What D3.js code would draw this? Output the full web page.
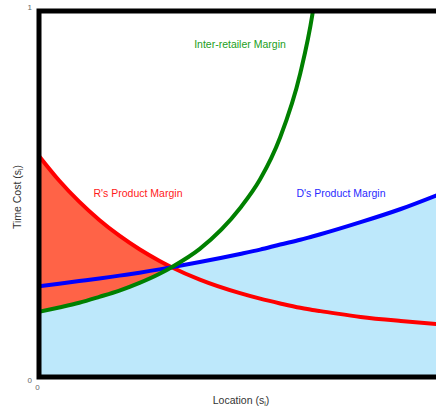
<!DOCTYPE html>
<html>
<head>
<meta charset="utf-8">
<script src="https://cdn.jsdelivr.net/npm/d3@7"></script>
<style>
  html, body { margin: 0; padding: 0; background: #fff; }
  svg { display: block; font-family: "Liberation Sans", Arial, sans-serif; }
</style>
</head>
<body>
<svg id="chart" width="436" height="410"></svg>
<script>
// Location along the market (s_i), shared by every curve
const locations = [0, 0.05, 0.1, 0.15, 0.2, 0.25, 0.3, 0.33, 0.4, 0.5, 0.55, 0.6, 0.65, 0.68, 0.7, 0.8, 0.9, 1.0];
// R's product margin (time cost)
const rMargin = [0.604, 0.537, 0.479, 0.429, 0.386, 0.349, 0.317, 0.300, 0.266, 0.229, 0.214, 0.201, 0.189, 0.183, 0.180, 0.164, 0.153, 0.144];
// D's product margin (time cost)
const dMargin = [0.248, 0.255, 0.262, 0.269, 0.277, 0.285, 0.294, 0.300, 0.314, 0.336, 0.348, 0.362, 0.375, 0.384, 0.390, 0.423, 0.459, 0.501];
// Inter-retailer margin; leaves the top of the plot past 0.7
const interMargin = [0.178, 0.190, 0.203, 0.219, 0.236, 0.257, 0.282, 0.300, 0.350, 0.461, 0.540, 0.655, 0.830, 0.990, 1.150, null, null, null];
// Location where the three margins meet
const crossing = 0.33;

const xTicks = [0];
const yTicks = [0, 1];

const svg = d3.select("#chart");

const x = d3.scaleLinear().domain([0, 1]).range([39, 441]);
const y = d3.scaleLinear().domain([0, 1]).range([377, 11]);

const rows = locations.map((s, i) => ({ s, r: rMargin[i], d: dMargin[i], g: interMargin[i] }));

svg.append("defs").append("clipPath").attr("id", "plotClip")
  .append("rect")
  .attr("x", x(0)).attr("y", y(1))
  .attr("width", x(1) - x(0)).attr("height", y(0) - y(1));

const plot = svg.append("g").attr("clip-path", "url(#plotClip)");

// Region under the lower of D's margin and the inter-retailer margin
const lowerEnvelope = rows.map(p => ({ s: p.s, v: p.s <= crossing ? p.g : p.d }));
plot.append("path")
  .datum(lowerEnvelope)
  .attr("fill", "#bde8fb")
  .attr("d", d3.area().curve(d3.curveMonotoneX)
    .x(p => x(p.s)).y0(y(0)).y1(p => y(p.v)));

// R's margin above the inter-retailer margin, left of the crossing
plot.append("path")
  .datum(rows.filter(p => p.s <= crossing))
  .attr("fill", "#ff6347")
  .attr("d", d3.area().curve(d3.curveMonotoneX)
    .x(p => x(p.s)).y0(p => y(p.g)).y1(p => y(p.r)));

const line = key => d3.line().curve(d3.curveMonotoneX)
  .defined(p => p[key] != null)
  .x(p => x(p.s)).y(p => y(p[key]));

plot.append("path").datum(rows).attr("fill", "none")
  .attr("stroke", "#ff0000").attr("stroke-width", 4).attr("d", line("r"));
plot.append("path").datum(rows).attr("fill", "none")
  .attr("stroke", "#0000ff").attr("stroke-width", 4).attr("d", line("d"));
plot.append("path").datum(rows).attr("fill", "none")
  .attr("stroke", "#008000").attr("stroke-width", 4).attr("d", line("g"));

// Frame
svg.append("rect")
  .attr("x", x(0)).attr("y", y(1))
  .attr("width", x(1) - x(0)).attr("height", y(0) - y(1))
  .attr("fill", "none").attr("stroke", "#000").attr("stroke-width", 5);

// Axes: only the end labels are shown
const yAxis = svg.append("g").attr("transform", `translate(${x(0) - 4},0)`)
  .call(d3.axisLeft(y).tickValues(yTicks).tickSize(0).tickPadding(3).tickFormat(d3.format("d")));
yAxis.select(".domain").remove();
yAxis.selectAll("text")
  .attr("font-size", 8).attr("fill", "#666")
  .attr("font-family", "Liberation Sans, Arial, sans-serif")
  .attr("dy", d => d === 0 ? "0.7em" : "-0.15em");

const xAxis = svg.append("g").attr("transform", `translate(-2,${y(0) + 4})`)
  .call(d3.axisBottom(x).tickValues(xTicks).tickSize(0).tickPadding(3).tickFormat(d3.format("d")));
xAxis.select(".domain").remove();
xAxis.selectAll("text")
  .attr("font-size", 8).attr("fill", "#666")
  .attr("font-family", "Liberation Sans, Arial, sans-serif");

// Axis titles
const xTitle = svg.append("text")
  .attr("x", 241).attr("y", 404)
  .attr("text-anchor", "middle").attr("font-size", 10.5).attr("fill", "#333");
xTitle.append("tspan").text("Location (s");
xTitle.append("tspan").attr("font-size", 7).attr("dy", 2).text("i");
xTitle.append("tspan").attr("dy", -2).text(")");

const yTitle = svg.append("text")
  .attr("transform", "translate(21,197) rotate(-90)")
  .attr("text-anchor", "middle").attr("font-size", 10.5).attr("fill", "#333");
yTitle.append("tspan").text("Time Cost (s");
yTitle.append("tspan").attr("font-size", 7).attr("dy", 2).text("i");
yTitle.append("tspan").attr("dy", -2).text(")");

// Curve labels
svg.append("text").attr("x", 240).attr("y", 48)
  .attr("text-anchor", "middle").attr("font-size", 10.5).attr("fill", "#1a9e1a")
  .text("Inter-retailer Margin");
svg.append("text").attr("x", 138).attr("y", 197)
  .attr("text-anchor", "middle").attr("font-size", 10.5).attr("fill", "#ff1a1a")
  .text("R's Product Margin");
svg.append("text").attr("x", 341).attr("y", 197)
  .attr("text-anchor", "middle").attr("font-size", 10.5).attr("fill", "#2a2aff")
  .text("D's Product Margin");
</script>
</body>
</html>
